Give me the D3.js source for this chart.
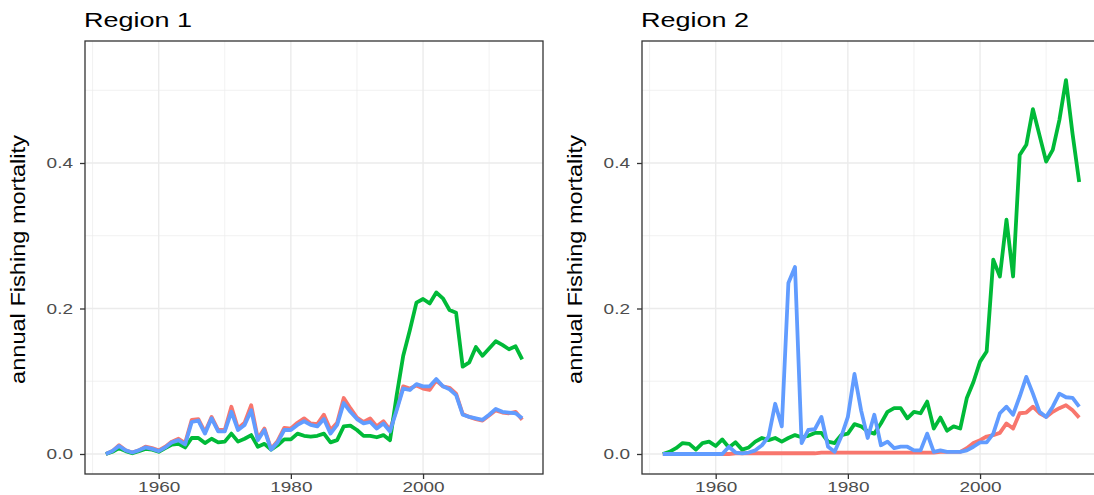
<!DOCTYPE html>
<html><head><meta charset="utf-8">
<script src="https://cdn.jsdelivr.net/npm/d3@7"></script>
<style>body{margin:0;background:#fff} svg{display:block}</style>
</head><body><svg id="chart" width="1094" height="495"></svg>
<script>
const years = [1952,1953,1954,1955,1956,1957,1958,1959,1960,1961,1962,1963,1964,1965,1966,1967,1968,1969,1970,1971,1972,1973,1974,1975,1976,1977,1978,1979,1980,1981,1982,1983,1984,1985,1986,1987,1988,1989,1990,1991,1992,1993,1994,1995,1996,1997,1998,1999,2000,2001,2002,2003,2004,2005,2006,2007,2008,2009,2010,2011,2012,2013,2014,2015];

const region1Red = [0.000,0.004,0.012,0.005,0.002,0.005,0.010,0.008,0.005,0.010,0.017,0.021,0.015,0.047,0.048,0.030,0.051,0.033,0.033,0.065,0.035,0.043,0.067,0.021,0.035,0.007,0.018,0.036,0.035,0.043,0.049,0.042,0.041,0.054,0.033,0.043,0.077,0.063,0.050,0.044,0.049,0.038,0.045,0.033,0.062,0.093,0.090,0.094,0.090,0.088,0.101,0.093,0.091,0.083,0.055,0.051,0.048,0.046,0.053,0.060,0.057,0.056,0.058,0.047];
const region1Green = [0.000,0.003,0.008,0.004,0.001,0.004,0.007,0.006,0.003,0.008,0.013,0.014,0.009,0.022,0.022,0.015,0.021,0.016,0.017,0.028,0.017,0.021,0.026,0.010,0.014,0.006,0.012,0.020,0.020,0.028,0.025,0.024,0.025,0.028,0.016,0.019,0.038,0.039,0.033,0.025,0.025,0.023,0.026,0.019,0.080,0.135,0.170,0.208,0.213,0.207,0.222,0.214,0.198,0.194,0.120,0.126,0.147,0.135,0.145,0.155,0.150,0.144,0.148,0.130];
const region1Blue = [0.000,0.004,0.011,0.005,0.002,0.005,0.009,0.007,0.004,0.009,0.016,0.019,0.013,0.044,0.046,0.028,0.049,0.031,0.031,0.058,0.033,0.040,0.060,0.019,0.033,0.006,0.016,0.033,0.033,0.040,0.045,0.040,0.038,0.048,0.028,0.040,0.070,0.058,0.048,0.042,0.044,0.035,0.042,0.031,0.060,0.090,0.088,0.096,0.093,0.093,0.103,0.093,0.089,0.081,0.054,0.051,0.049,0.047,0.054,0.062,0.058,0.057,0.056,0.049];

const region2Red = [0.000,0.000,0.000,0.000,0.000,0.000,0.000,0.000,0.000,0.000,0.000,0.001,0.001,0.001,0.001,0.001,0.001,0.001,0.001,0.001,0.001,0.001,0.001,0.001,0.002,0.002,0.002,0.002,0.002,0.002,0.002,0.002,0.002,0.002,0.002,0.002,0.002,0.002,0.002,0.002,0.002,0.002,0.003,0.003,0.003,0.003,0.008,0.015,0.019,0.024,0.026,0.029,0.042,0.035,0.056,0.057,0.065,0.056,0.051,0.058,0.063,0.067,0.060,0.050];
const region2Green = [0.000,0.003,0.008,0.015,0.014,0.006,0.015,0.017,0.011,0.020,0.009,0.016,0.006,0.009,0.017,0.022,0.019,0.022,0.017,0.022,0.026,0.023,0.025,0.029,0.029,0.017,0.015,0.026,0.028,0.041,0.038,0.031,0.028,0.042,0.058,0.063,0.063,0.049,0.058,0.056,0.072,0.035,0.050,0.032,0.038,0.035,0.077,0.099,0.127,0.141,0.267,0.244,0.322,0.244,0.411,0.425,0.474,0.438,0.402,0.418,0.459,0.514,0.440,0.374];
const region2Blue = [0.000,0.000,0.000,0.000,0.000,0.000,0.000,0.000,0.000,0.000,0.010,0.002,0.001,0.002,0.005,0.012,0.024,0.069,0.038,0.235,0.257,0.015,0.033,0.034,0.051,0.010,0.003,0.024,0.051,0.110,0.060,0.022,0.054,0.012,0.017,0.008,0.010,0.010,0.005,0.005,0.028,0.003,0.005,0.003,0.003,0.003,0.005,0.010,0.016,0.016,0.028,0.056,0.065,0.054,0.079,0.106,0.083,0.058,0.051,0.065,0.083,0.078,0.077,0.065];

const regionTitles = ["Region 1", "Region 2"];
const yAxisTitle = "annual Fishing mortality";
const xTicks = [1960, 1980, 2000];
const xMinorTicks = [1950, 1970, 1990, 2010];
const yTicks = [0, 0.2, 0.4];
const yMinorTicks = [0.1, 0.3, 0.5];
const seriesColors = ["#F8766D", "#00BA38", "#619CFF"];

const panelData = [
  [region1Red, region1Green, region1Blue],
  [region2Red, region2Green, region2Blue]
];

const svg = d3.select("#chart");
const plotTop = 41, plotBottom = 474;
const panels = [{left: 85, right: 543}, {left: 642, right: 1100}];
const vs = 0.76;
const hs = 1.15;
const font = "'Liberation Sans', Arial, Helvetica, sans-serif";

const y = d3.scaleLinear().domain([-0.0275, 0.5677]).range([plotBottom, plotTop]);

panels.forEach((p, i) => {
  const x = d3.scaleLinear().domain([1948.85, 2018.15]).range([p.left, p.right]);
  const g = svg.append("g");

  g.selectAll(".ymin").data(yMinorTicks).enter().append("line")
    .attr("x1", p.left).attr("x2", p.right).attr("y1", d => y(d)).attr("y2", d => y(d))
    .attr("stroke", "#EBEBEB").attr("stroke-width", 0.7);
  g.selectAll(".xmin").data(xMinorTicks).enter().append("line")
    .attr("y1", plotTop).attr("y2", plotBottom).attr("x1", d => x(d)).attr("x2", d => x(d))
    .attr("stroke", "#EBEBEB").attr("stroke-width", 0.7);
  g.selectAll(".ymaj").data(yTicks).enter().append("line")
    .attr("x1", p.left).attr("x2", p.right).attr("y1", d => y(d)).attr("y2", d => y(d))
    .attr("stroke", "#EBEBEB").attr("stroke-width", 1.4);
  g.selectAll(".xmaj").data(xTicks).enter().append("line")
    .attr("y1", plotTop).attr("y2", plotBottom).attr("x1", d => x(d)).attr("x2", d => x(d))
    .attr("stroke", "#EBEBEB").attr("stroke-width", 1.4);

  const line = d3.line().x((d, k) => x(years[k])).y(d => y(d));
  panelData[i].forEach((vals, s) => {
    g.append("path").datum(vals).attr("d", line)
      .attr("fill", "none").attr("stroke", seriesColors[s])
      .attr("stroke-width", 3.8).attr("stroke-linejoin", "round").attr("stroke-linecap", "butt");
  });

  g.append("rect").attr("x", p.left).attr("y", plotTop)
    .attr("width", p.right - p.left).attr("height", plotBottom - plotTop)
    .attr("fill", "none").attr("stroke", "#333333").attr("stroke-width", 1.3);

  const ax = g.append("g").attr("transform", `translate(0,${plotBottom})`)
    .call(d3.axisBottom(x).tickValues(xTicks).tickFormat(d3.format("d")).tickSize(5).tickSizeOuter(0));
  ax.select(".domain").remove();
  ax.selectAll("line").attr("stroke", "#333333").attr("stroke-width", 1.3);
  ax.selectAll("text").attr("y", 0).attr("dy", "0.71em")
    .attr("transform", `translate(0,8) scale(1,${vs})`)
    .attr("fill", "#4D4D4D").style("font-size", "19px").style("font-family", font);

  const ay = g.append("g").attr("transform", `translate(${p.left},0)`)
    .call(d3.axisLeft(y).tickValues(yTicks).tickFormat(d3.format(".1f")).tickSize(5).tickPadding(7).tickSizeOuter(0));
  ay.select(".domain").remove();
  ay.selectAll("line").attr("stroke", "#333333").attr("stroke-width", 1.3);
  ay.selectAll("text").attr("transform", `scale(1,${vs})`)
    .attr("fill", "#4D4D4D").style("font-size", "19px").style("font-family", font);

  g.append("text").text(regionTitles[i])
    .attr("transform", `translate(${p.left - 1},27) scale(1,${vs})`)
    .attr("fill", "#000").style("font-size", "27px").style("font-family", font);

  g.append("text").text(yAxisTitle)
    .attr("transform", `translate(${p.left - 60},${(plotTop + plotBottom) / 2 + 2}) rotate(-90) scale(${hs},1)`)
    .attr("text-anchor", "middle")
    .attr("fill", "#000").style("font-size", "20.5px").style("font-family", font);
});
</script>
</body></html>
